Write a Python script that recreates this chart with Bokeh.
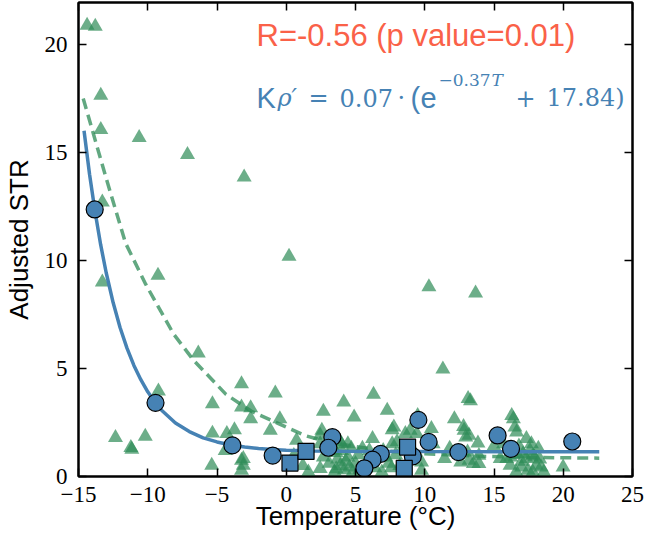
from bokeh.plotting import figure
from bokeh.models import Range1d, LinearAxis, FixedTicker, Label
from bokeh.embed import file_html
from bokeh.resources import INLINE

# ---- data ----
tri_x = [-14.38, -13.79, -13.39, -13.39, -10.62, -7.13, -3.04, -13.28, 0.2, -9.26,
         -13.28, 11.31, 10.3, 13.67, -6.35, -9.23, -5.33, -12.33, -10.18, -11.22,
         -11.15, -5.33, -5.38, -3.23, -0.79, -3.23, -2.57, -2.57, -0.46, -1.15,
         4.15, 2.68, 4.9, -3.74, -4.29, -4.41, -3.1, -3.1, -3.23, 0.74,
         0.55, 2.57, 2.45, 2.68, 2.45, 6.3, 7.29, 13.13, 13.3, 12.14,
         12.8, 9.49, 10.48, 7.65, 6.23, 7.65, 8.6, 12.96, 13.84, 11.43,
         13.2, 13.51, 7.2, 7.4, 7.6, 4.45, 4.57, 9.77, 9.77, 16.4,
         16.51, 17.34, 17.7, 16.4, 17.1, 17.93, 15.92, 19.99, 16.63, 15.69,
         15.45, 16.16, 17.34, 17.82, 18.05, 16.99, 17.46, 18.4, 16.63, 13.91,
         16.28, 7.77, 4.45, 3.99, 2.45, 3.7, 3.9, 4.2, 3.6, 6.7,
         8.95, 9.42, 9.18, 10.6, 12.6, 12.84, 13.2, 13.09, 13.91, -3.23,
         3.3, 3.6, 4.0, 4.3, 4.7, 5.0, 5.2, 3.1, 3.5, 4.8,
         5.5, 5.8, 6.0, 6.4, 5.3, 3.9, 7.0, 7.9, 8.2, 8.0,
         6.9, 8.4, 16.8, 17.6, 18.2, 18.3, 17.0, 16.2, 18.6, 17.8,
         16.6, 15.0, 11.8, 1.2, 1.6]
tri_y = [20.88, 20.83, 17.64, 16.05, 15.68, 14.9, 13.86, 12.7, 10.19, 9.31,
         9.0, 4.97, 8.77, 8.49, 5.71, 3.95, 3.36, 1.8, 1.85, 1.33,
         1.25, 2.0, 0.51, 4.29, 3.86, 3.21, 3.18, 2.67, 2.67, 2.13,
         3.44, 3.01, 2.75, 2.16, 1.98, 1.2, 0.82, 0.51, 0.28, 1.67,
         0.97, 2.13, 1.51, 0.9, 0.36, 3.8, 3.06, 3.6, 3.5, 2.67,
         2.31, 2.82, 2.21, 2.16, 1.75, 1.51, 1.98, 1.82, 1.54, 0.82,
         0.74, 0.59, 0.9, 0.6, 0.4, 0.9, 0.43, 0.28, 0.66, 2.67,
         2.28, 1.75, 1.51, 1.2, 1.05, 0.9, 0.82, 0.43, 2.05, 1.51,
         0.82, 0.51, 0.82, 0.97, 0.51, 0.43, 0.28, 0.43, 1.05, 0.59,
         2.82, 2.28, 1.51, 1.51, 1.9, 0.8, 0.5, 0.3, 0.35, 0.9,
         2.13, 1.98, 1.2, 1.51, 0.66, 2.13, 1.9, 1.13, 0.97, 0.74,
         1.4, 1.1, 1.2, 0.7, 1.3, 0.6, 1.0, 0.6, 0.2, 0.2,
         1.3, 0.7, 1.2, 0.4, 0.3, 1.6, 1.2, 1.0, 0.5, 1.6,
         0.2, 1.3, 1.4, 1.2, 1.3, 0.8, 0.7, 0.9, 0.2, 0.2,
         0.2, 1.4, 1.3, 0.5, 0.2]

circ_x = [-13.83, -9.44, -3.89, -0.98, 3.33, 3.04, 9.54, 10.28, 12.43, 6.82,
          6.23, 5.64, 9.14, 15.26, 16.23, 20.65]
circ_y = [12.36, 3.41, 1.44, 0.97, 1.82, 1.33, 2.62, 1.6, 1.13, 1.05,
          0.78, 0.38, 0.93, 1.9, 1.28, 1.62]

sq_x = [0.27, 1.43, 8.76, 8.52]
sq_y = [0.62, 1.16, 1.36, 0.38]

fit_x = [-14.6, -14.2, -13.8, -13.4, -13.0, -12.5, -12.0, -11.5, -11.0, -10.5,
         -10.0, -9.5, -9.0, -8.0, -7.0, -6.0, -5.0, -4.0, -3.0, -2.0,
         -1.0, 0.0, 1.0, 2.0, 4.0, 6.0, 10.0, 22.6]
fit_y = [16.0, 13.98, 12.24, 10.73, 9.43, 8.05, 6.9, 5.94, 5.14, 4.48,
         3.92, 3.46, 3.07, 2.48, 2.08, 1.79, 1.6, 1.46, 1.37, 1.3,
         1.25, 1.22, 1.2, 1.185, 1.167, 1.158, 1.152, 1.15]

dash_x = [-14.66, -13.0, -11.6, -10.15, -8.14, -6.72, -4.35, -2.46, -0.56, 1.33,
          3.0, 4.89, 7.0, 10.0, 14.4, 18.0, 22.6]
dash_y = [17.5, 13.8, 10.8, 8.9, 6.6, 5.4, 3.8, 3.0, 2.45, 1.9,
          1.6, 1.4, 1.2, 1.05, 0.93, 0.88, 0.85]

x_ticks = [-15, -10, -5, 0, 5, 10, 15, 20, 25]
x_tick_labels = ["\u221215", "\u221210", "\u22125", "0", "5", "10", "15", "20", "25"]
y_ticks = [0, 5, 10, 15, 20]
y_tick_labels = ["0", "5", "10", "15", "20"]

BLUE = "#4682b4"
GREEN = "#2e8b57"
RED = "#fa6148"
SERIF = "DejaVu Serif"
TICK_FONT = "Liberation Serif"
SANS = "Liberation Sans"

FRAME_L, FRAME_R, FRAME_T, FRAME_B = 74, 628, 2, 476

p = figure(frame_width=FRAME_R - FRAME_L, frame_height=FRAME_B - FRAME_T,
           output_backend="svg", toolbar_location=None,
           x_range=Range1d(-15, 25), y_range=Range1d(0, 21.94),
           min_border_left=FRAME_L, min_border_right=648 - FRAME_R,
           min_border_top=FRAME_T, min_border_bottom=542 - FRAME_B,
           x_axis_location=None, y_axis_location=None)
p.grid.visible = False
p.outline_line_color = "black"
p.outline_line_width = 2
p.background_fill_color = "white"
p.border_fill_color = "white"


def make_axis(ticks, labels, show):
    ax = LinearAxis(ticker=FixedTicker(ticks=ticks))
    ax.major_tick_in = 8
    ax.major_tick_out = 0
    ax.minor_tick_in = 0
    ax.minor_tick_out = 0
    ax.major_tick_line_width = 1.5
    ax.axis_line_width = 2
    if show:
        ax.major_label_overrides = {t: l for t, l in zip(ticks, labels)}
        ax.major_label_text_font = TICK_FONT
        ax.major_label_text_font_size = "23px"
        ax.major_label_text_color = "black"
        ax.axis_label_text_font = SANS
        ax.axis_label_text_font_size = "26px"
        ax.axis_label_text_font_style = "normal"
        ax.axis_label_text_color = "black"
    else:
        ax.major_label_text_font_size = "1px"
        ax.major_label_text_color = None
        ax.major_label_standoff = 0
    return ax


xb = make_axis(x_ticks, x_tick_labels, True)
xb.axis_label = "Temperature (\u00b0C)"
xb.major_label_standoff = 10
xb.axis_label_standoff = -4
p.add_layout(xb, "below")

yl = make_axis(y_ticks, y_tick_labels, True)
yl.axis_label = "Adjusted STR"
yl.major_label_standoff = 11
yl.axis_label_standoff = 8
p.add_layout(yl, "left")

p.add_layout(make_axis(x_ticks, x_tick_labels, False), "above")
p.add_layout(make_axis(y_ticks, y_tick_labels, False), "right")

p.scatter(tri_x, tri_y, marker="triangle", size=15, fill_color=GREEN,
          fill_alpha=0.7, line_color=None)
p.line(dash_x, dash_y, line_color=GREEN, line_alpha=0.75, line_width=3.5,
       line_dash="11 6")
p.line(fit_x, fit_y, line_color=BLUE, line_width=3.5)
p.scatter(circ_x, circ_y, marker="circle", size=17, fill_color=BLUE,
          line_color="black", line_width=1.2)
p.scatter(sq_x, sq_y, marker="square", size=16, fill_color=BLUE,
          line_color="black", line_width=1.2)

XS = (FRAME_R - FRAME_L) / 40.0
YS = (FRAME_B - FRAME_T) / 21.94


def px_x(px):
    return (px - FRAME_L) / XS - 15


def px_y(py):
    return (FRAME_B - py) / YS


def lab(px, py, text, font, size, color, style="normal"):
    p.add_layout(Label(x=px_x(px), y=px_y(py), text=text, text_font=font,
                       text_font_size=size, text_color=color,
                       text_font_style=style, text_align="left",
                       text_baseline="alphabetic"))


lab(252, 35, "R=-0.56 (p value=0.01)", SANS, "31px", RED)
lab(252, 97, "K", SANS, "29px", BLUE)
lab(273, 97, "\u03c1\u2032", SERIF, "24px", BLUE, style="italic")
lab(304, 97, "=", SERIF, "24px", BLUE)
lab(335, 97, "0.07", SERIF, "24px", BLUE)
lab(393, 97, "\u00b7", SERIF, "24px", BLUE)
lab(406, 97, "(", SANS, "29px", BLUE)
lab(416, 97, "e", SANS, "29px", BLUE)
lab(434, 79, "\u22120.37", SERIF, "17px", BLUE)
lab(487, 79, "T", SERIF, "17px", BLUE, style="italic")
lab(511, 97, "+", SERIF, "24px", BLUE)
lab(542, 97, "17.84)", SERIF, "24px", BLUE)

open("out.html", "w").write(file_html(p, INLINE))
